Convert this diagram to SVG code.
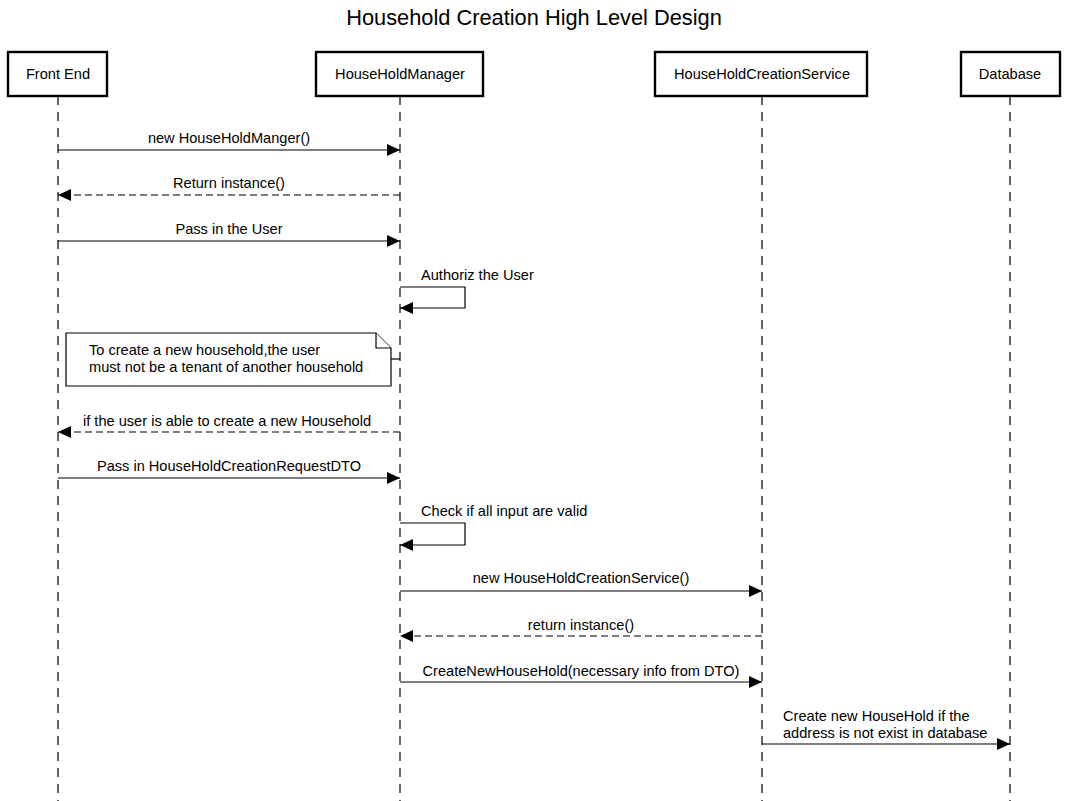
<svg xmlns="http://www.w3.org/2000/svg" width="1067" height="801" viewBox="0 0 1067 801">
<style>
text{font-family:"Liberation Sans",Arial,sans-serif;font-size:14.6px;fill:#000}
.title{font-size:21.8px}
.box{fill:#fff;stroke:#000;stroke-width:2.4}
.life{stroke:#000;stroke-width:1.2;stroke-dasharray:9 7;fill:none}
.msg{stroke:#000;stroke-width:1.2;fill:none;marker-end:url(#ah)}
.ret{stroke-dasharray:7 4}
.note{fill:#fff;stroke:#000;stroke-width:1.2}
.c{text-anchor:middle}
</style>
<defs>
<marker id="ah" markerUnits="userSpaceOnUse" markerWidth="14" markerHeight="13" refX="13" refY="6" orient="auto">
<path d="M0,0 L13,6 L0,12 Z" fill="#000"/>
</marker>
</defs>
<rect width="1067" height="801" fill="#fff"/>
<text class="title c" x="534" y="25">Household Creation High Level Design</text>

<g id="lifelines">
<line class="life" x1="58" y1="96" x2="58" y2="801"/>
<line class="life" x1="400" y1="96" x2="400" y2="801"/>
<line class="life" x1="762" y1="96" x2="762" y2="801"/>
<line class="life" x1="1010" y1="96" x2="1010" y2="801"/>
</g>

<g id="frontend"><rect class="box" x="8" y="52" width="99" height="44"/><text class="c" x="58" y="79">Front End</text></g>
<g id="manager"><rect class="box" x="316" y="52" width="167" height="44"/><text class="c" x="400" y="79">HouseHoldManager</text></g>
<g id="service"><rect class="box" x="655" y="52" width="212" height="44"/><text class="c" x="762" y="79">HouseHoldCreationService</text></g>
<g id="database"><rect class="box" x="961" y="52" width="99" height="44"/><text class="c" x="1010" y="79">Database</text></g>

<g id="note">
<path class="note" d="M66,333 L376,333 L391,348 L391,386 L66,386 Z"/>
<path class="note" d="M376,333 L376,348 L391,348" fill="none"/>
<text x="89" y="355">To create a new household,the user</text>
<text x="89" y="372">must not be a tenant of another household</text>
</g>

<g id="connectors">
<line x1="391" y1="359" x2="400" y2="359" stroke="#000" stroke-width="1.2"/>
<line class="msg" x1="58" y1="150" x2="400" y2="150"/>
<text class="c" x="229" y="143">new HouseHoldManger()</text>
<line class="msg ret" x1="400" y1="195" x2="58" y2="195"/>
<text class="c" x="229" y="188">Return instance()</text>
<line class="msg" x1="58" y1="241" x2="400" y2="241"/>
<text class="c" x="229" y="234">Pass in the User</text>
<path class="msg" d="M400,287 L465,287 L465,308 L400,308"/>
<text x="421" y="280">Authoriz the User</text>
<line class="msg ret" x1="400" y1="432" x2="58" y2="432"/>
<text class="c" x="227" y="426">if the user is able to create a new Household</text>
<line class="msg" x1="58" y1="478" x2="400" y2="478"/>
<text class="c" x="229" y="471">Pass in HouseHoldCreationRequestDTO</text>
<path class="msg" d="M400,523 L465,523 L465,545 L400,545"/>
<text x="421" y="516">Check if all input are valid</text>
<line class="msg" x1="400" y1="591" x2="762" y2="591"/>
<text class="c" x="581" y="583">new HouseHoldCreationService()</text>
<line class="msg ret" x1="762" y1="636" x2="400" y2="636"/>
<text class="c" x="581" y="630">return instance()</text>
<line class="msg" x1="400" y1="682" x2="762" y2="682"/>
<text class="c" x="581" y="676">CreateNewHouseHold(necessary info from DTO)</text>
<line class="msg" x1="762" y1="744" x2="1010" y2="744"/>
<text x="783" y="721">Create new HouseHold if the</text>
<text x="783" y="738">address is not exist in database</text>
</g>
</svg>
